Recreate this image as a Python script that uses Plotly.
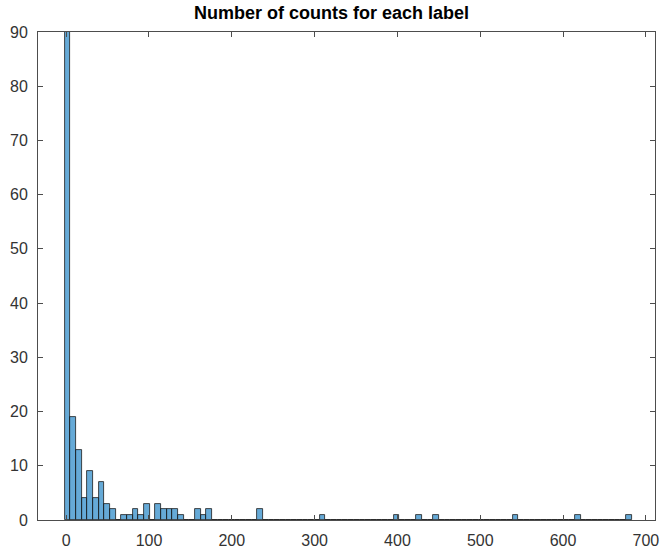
import plotly.graph_objects as go

# Histogram data (100 bins)
bin_start = -2.0
bin_width = 6.85
n_bins = 100
# counts per bin index (non-listed bins are zero); first bin is clipped by the y-limit
nonzero_bins = [0, 1, 2, 3, 4, 5, 6, 7, 8, 10, 11, 12, 13, 14, 16, 17, 18, 19, 20,
                23, 24, 25, 34, 45, 58, 62, 65, 79, 90, 99]
nonzero_counts = [120, 19, 13, 4, 9, 4, 7, 3, 2, 1, 1, 2, 1, 3, 3, 2, 2, 2, 1,
                  2, 1, 2, 2, 1, 1, 1, 1, 1, 1, 1]

x_ticks = [0, 100, 200, 300, 400, 500, 600, 700]
y_ticks = [0, 10, 20, 30, 40, 50, 60, 70, 80, 90]
title_text = "Number of counts for each label"

counts = [0] * n_bins
for b, c in zip(nonzero_bins, nonzero_counts):
    counts[b] = c
centers = [bin_start + bin_width * (i + 0.5) for i in range(n_bins)]

fig = go.Figure(go.Bar(
    x=centers, y=counts, width=bin_width,
    marker=dict(color="rgba(0,114,189,0.6)", line=dict(color="#1a1a1a", width=0.8)),
))

axis_col = "#4d4d4d"
font_col = "#333333"
fig.update_layout(
    width=663, height=554,
    margin=dict(l=38, r=8, t=32, b=34, autoexpand=False),
    paper_bgcolor="white", plot_bgcolor="white",
    showlegend=False,
    bargap=0,
    font=dict(family="Liberation Sans, Arial, sans-serif", size=16, color=font_col),
    title=dict(text="<b>" + title_text + "</b>", x=0.5, xanchor="center",
               y=1 - 13 / 554, yanchor="middle", yref="container",
               font=dict(size=18, color="#000000")),
)
fig.update_xaxes(range=[-34, 711], tickvals=x_ticks, ticks="inside", ticklen=5,
                 tickcolor=axis_col, showline=True, linecolor=axis_col, linewidth=1,
                 mirror="ticks", showgrid=False, zeroline=False, ticklabelstandoff=6,
                 automargin=False)
fig.update_yaxes(range=[0, 90], tickvals=y_ticks, ticks="inside", ticklen=5,
                 tickcolor=axis_col, showline=True, linecolor=axis_col, linewidth=1,
                 mirror="ticks", showgrid=False, zeroline=False, ticklabelstandoff=6,
                 automargin=False)

fig.write_html("out.html", config={"displayModeBar": False})

# remove the browser's default page margin so the figure sits at the window's corner
with open("out.html", "r", encoding="utf-8") as f:
    html = f.read()
html = html.replace("<head>", "<head><style>html,body{margin:0;padding:0;overflow:hidden;}</style>", 1)
with open("out.html", "w", encoding="utf-8") as f:
    f.write(html)
